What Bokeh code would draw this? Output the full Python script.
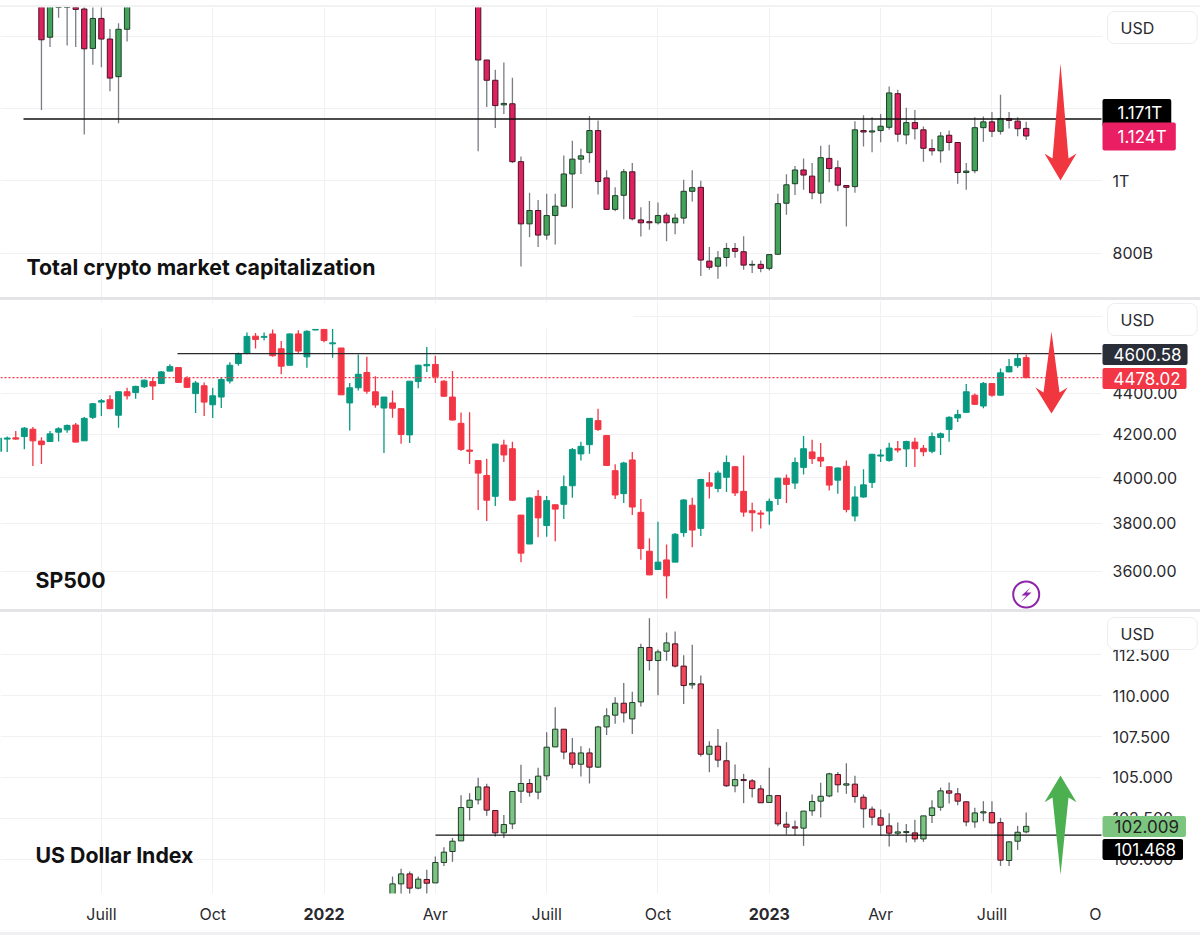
from bokeh.plotting import figure
from bokeh.models import FixedTicker, Label, Spacer, Column
from bokeh.embed import file_html
from bokeh.resources import INLINE
import math

# ---- weekly candles; x is a week number, prices in USD billions (crypto) or index points
crypto_week = list(range(4, 15)) + list(range(55, 120))
crypto_open = [1520,1397,1500,1500,1480,1475,1366,1449,1392,1288,1419,
 1520,1334,1278,1210,1213,1053,881,918,850,904,930,1019,1060,1078,1139,
 1008,921,960,1025,892,887,884,905,884,897,971,982,778,764,788,813,804,767,769,758,
 797,938,992,1030,1013,966,1062,1036,987,984,1139,1135,1139,1148,1241,1127,1161,1141,1089,1083,
 1126,1106,1023,1028,1147,1163,1137,1172,1165,1145]
crypto_high = [1560,1540,1560,1560,1500,1500,1500,1500,1420,1436,1550,
 1560,1334,1307,1327,1285,1067,967,947,964,964,1070,1111,1089,1179,1167,
 1029,982,1033,1049,927,944,940,912,909,1003,1029,1000,817,806,828,828,847,780,780,798,
 964,1018,1041,1062,1049,1097,1100,1056,987,1165,1181,1176,1185,1261,1252,1202,1196,1150,1115,1135,
 1139,1107,1049,1176,1178,1190,1238,1190,1176,1163]
crypto_low = [1196,1370,1451,1374,1370,1128,1321,1314,1248,1159,1385,
 1082,1204,1146,1185,1049,763,844,817,837,824,930,924,1019,1050,962,
 920,916,894,890,846,865,879,833,852,881,943,737,754,729,763,787,754,745,747,752,
 796,906,961,975,949,937,996,971,874,967,1095,1079,1107,1141,1108,1101,1114,1053,1070,1050,
 1084,992,975,1021,1108,1121,1128,1145,1123,1113]
crypto_close = [1390,1510,1530,1530,1474,1365,1449,1392,1284,1419,1520,
 1334,1278,1208,1214,1053,881,918,850,904,930,1019,1060,1069,1139,998,
 921,959,1025,895,884,884,904,884,897,971,981,781,761,787,813,805,767,769,758,796,
 937,989,1030,1016,967,1064,1034,988,982,1141,1135,1138,1151,1243,1129,1161,1144,1090,1083,1124,
 1106,1023,1027,1147,1163,1137,1172,1167,1144,1124]

sp_week = list(range(-1, 120))
sp_open = [4121,4178,4184,4190,4225,4169,4167,4211,4222,4245,4170,
 4282,4356,4368,4292,4407,4403,4432,4458,4448,4511,
 4529,4473,4398,4437,4343,4381,4461,4550,4602,4692,
 4686,4704,4626,4541,4704,4584,4725,4728,4652,4630,
 4352,4427,4504,4407,4327,4352,4324,4198,4458,4538,
 4545,4460,4381,4253,4127,4078,4010,3917,4150,4133,
 3835,3712,3917,3790,3880,3882,3964,4109,4152,4266,
 4195,4032,3929,4081,3847,3682,3607,3646,3637,3760,
 3878,3778,3977,3952,4002,4050,3939,3854,3844,3853,
 3908,3998,3976,4047,4118,4093,4050,3989,4052,3831,
 3914,3979,4099,4079,4133,4132,4164,4135,4121,4186,
 4224,4279,4306,4390,4337,4448,4390,4507,4539,4580]
sp_high = [4185,4190,4216,4235,4235,4187,4216,4234,4248,4255,4284,
 4352,4371,4390,4410,4427,4437,4468,4478,4511,4546,
 4531,4485,4461,4454,4427,4480,4556,4606,4711,4709,
 4711,4728,4667,4706,4723,4723,4730,4730,4730,4630,
 4451,4596,4585,4485,4381,4414,4324,4460,4543,4635,
 4590,4465,4511,4305,4306,4079,4087,4155,4175,4166,
 3835,3913,3945,3919,3881,4010,4136,4166,4279,4324,
 4198,4061,4073,4118,3905,3736,3806,3710,3758,3904,
 3911,3996,4025,4032,4101,4052,4101,3889,3856,3907,
 4000,4015,4092,4193,4175,4160,4052,4046,4079,3962,
 4038,4110,4130,4161,4169,4170,4184,4150,4209,4209,
 4287,4319,4446,4398,4456,4451,4524,4573,4604,4596]
sp_low = [4118,4118,4175,4130,4053,4062,4166,4167,4208,4163,4170,
 4274,4288,4321,4232,4369,4373,4426,4366,4448,4509,
 4453,4427,4303,4288,4279,4327,4448,4538,4597,4628,
 4670,4584,4495,4539,4601,4528,4723,4660,4580,4392,
 4219,4414,4397,4329,4113,4280,4156,4160,4424,4507,
 4451,4382,4267,4123,4062,3857,3810,3875,4072,3898,
 3637,3712,3740,3743,3724,3818,3911,4079,4110,4217,
 4055,3905,3888,3835,3647,3584,3607,3491,3637,3743,
 3699,3746,3907,3935,3936,3919,3828,3765,3778,3793,
 3879,3888,3949,4015,4062,4049,3943,3929,3847,3808,
 3911,3954,4072,4073,4115,4049,4049,4098,4112,4104,
 4166,4259,4305,4342,4326,4382,4389,4505,4528,4475]
sp_close = [4183,4183,4178,4230,4170,4152,4203,4227,4243,4164,4277,
 4348,4363,4324,4407,4387,4434,4465,4436,4507,4534,
 4454,4429,4451,4356,4387,4468,4541,4601,4691,4675,
 4691,4590,4536,4704,4614,4718,4728,4669,4657,4392,
 4427,4495,4410,4342,4381,4326,4200,4460,4541,4545,
 4483,4385,4269,4130,4121,4021,3900,4155,4104,3900,
 3674,3910,3823,3898,3861,3960,4129,4144,4277,4224,
 4056,3923,4067,3870,3693,3585,3637,3581,3753,3901,
 3771,3992,3962,4021,4069,3932,3848,3845,3839,3895,
 3998,3970,4069,4133,4087,4076,3967,4044,3859,3914,
 3968,4107,4104,4136,4127,4167,4133,4119,4190,4203,
 4282,4295,4407,4345,4449,4390,4502,4534,4575,4478]

dxy_week = list(range(45, 120))
dxy_open = [97.6,98.49,99.10,98.23,98.76,98.55,99.80,100.47,101.12,103.16,
 103.63,104.42,102.98,101.61,102.16,104.16,104.63,104.10,105.10,106.87,
 107.95,106.50,105.81,106.50,105.63,108.09,108.81,109.54,108.58,109.62,
 112.95,112.15,112.72,113.17,111.81,110.66,110.72,106.42,106.91,106.02,
 104.49,104.87,104.79,104.30,103.47,103.89,102.14,101.98,101.90,102.96,
 103.55,103.87,105.18,104.53,104.59,103.79,103.06,102.53,102.04,101.59,
 101.63,101.61,101.24,102.67,103.18,104.18,104.00,103.51,102.28,102.83,
 102.85,102.24,99.92,101.10,101.67]
dxy_high = [98.94,99.41,99.25,98.94,99.35,100.16,100.73,101.30,103.91,104.04,
 104.98,104.61,103.0,102.71,104.14,105.77,104.91,105.59,107.77,109.30,
 107.95,107.42,106.91,106.79,108.16,109.24,109.91,110.77,110.24,113.17,
 114.74,112.83,113.87,113.93,112.48,113.11,111.23,107.22,107.97,107.16,
 105.79,105.22,104.91,104.53,105.59,103.89,102.90,102.37,102.94,103.96,
 104.67,105.28,105.34,105.87,105.10,103.96,103.22,103.04,102.81,102.24,
 102.16,102.41,102.65,103.61,104.38,104.69,104.36,103.53,103.14,103.55,
 103.55,102.53,101.10,102.04,102.85]
dxy_low = [97.3,97.78,97.84,98.16,97.82,98.55,99.59,99.84,101.12,102.37,
 103.34,102.65,101.39,101.30,101.84,103.43,103.83,103.67,104.83,106.85,
 106.12,105.55,105.06,104.63,105.59,107.59,108.28,108.36,107.65,109.34,
 111.54,110.03,112.13,111.72,109.50,110.42,106.28,105.32,105.63,104.42,
 104.10,103.43,103.77,103.43,103.47,102.02,101.51,101.47,100.82,102.65,
 102.55,103.79,104.08,104.00,103.45,101.92,102.08,101.43,100.77,101.43,
 101.02,101.04,101.06,102.22,102.96,103.41,103.30,102.02,101.92,102.32,
 102.20,99.59,99.59,100.57,101.59]
dxy_close = [98.49,99.10,98.23,98.78,98.53,99.80,100.43,101.10,103.16,103.61,
 104.42,103.00,101.61,102.12,104.14,104.63,104.10,105.08,106.85,107.95,
 106.55,105.81,106.50,105.63,108.09,108.77,109.54,108.95,109.58,112.95,
 112.15,112.68,113.23,111.81,110.62,110.75,106.42,106.91,106.06,104.49,
 104.87,104.81,104.32,103.45,103.89,102.16,101.96,101.90,102.94,103.53,
 103.85,105.22,104.55,104.61,103.83,103.08,102.57,102.08,101.59,101.67,
 101.69,101.24,102.65,103.14,104.18,104.04,103.55,102.28,102.83,102.90,
 102.22,99.94,101.06,101.65,102.01]

month_weeks = [11, 24, 37, 50, 63, 76, 89, 102, 115]
month_labels = ["Juill", "Oct", "2022", "Avr", "Juill", "Oct", "2023", "Avr", "Juill"]
last_tick_week = 127.09
last_tick_label = "O"

crypto_ticks = [800, 1000]
crypto_tick_labels = ["800B", "1T"]
crypto_grid = [800, 1000, 1200, 1400]
sp_ticks = [3600, 3800, 4000, 4200, 4400]
sp_tick_labels = ["3600.00", "3800.00", "4000.00", "4200.00", "4400.00"]
sp_grid = [3600, 3800, 4000, 4200, 4400, 4800]
dxy_ticks = [100, 102.5, 105, 107.5, 110, 112.5]
dxy_tick_labels = ["100.000", "102.500", "105.000", "107.500", "110.000", "112.500"]

crypto_level, crypto_last = 1171, 1124
sp_level, sp_last = 4600.58, 4478.02
dxy_level, dxy_last = 101.468, 102.009

FONT = "Inter"
PX0, PXW = 6.7, 8.563            # centre of week 0 and week pitch in page pixels


def wk(px):
    return (px - PX0) / PXW


def make_panel(height, yr, yf, log=False, grid=None, ticks=(), labels=()):
    p = figure(width=1200, height=height, x_range=(wk(0), wk(1200)), y_range=yr,
               y_axis_type="log" if log else "linear", y_axis_location="right",
               output_backend="svg", toolbar_location=None,
               min_border_left=0, min_border_top=0, min_border_right=0,
               min_border_bottom=0, outline_line_color=None)
    p.xgrid.ticker = FixedTicker(ticks=month_weeks)
    p.ygrid.ticker = FixedTicker(ticks=grid if grid else list(ticks))
    p.xgrid.grid_line_color = "#f1f1f3"
    p.ygrid.grid_line_color = "#f1f1f3"
    p.yaxis.ticker = FixedTicker(ticks=list(ticks))
    p.yaxis.major_label_overrides = dict(zip(ticks, labels))
    p.yaxis.major_label_text_font = FONT
    p.yaxis.major_label_text_font_size = "16px"
    p.yaxis.major_label_text_color = "#2a2a2e"
    p.yaxis.major_label_standoff = -88
    p.yaxis.major_tick_in = 0
    p.yaxis.major_tick_out = 0
    p.yaxis.major_tick_line_color = None
    p.yaxis.minor_tick_line_color = None
    p.yaxis.axis_line_color = None
    # the price scale strip: grid lines stop where it starts
    p.quad(left=[wk(1101)], right=[wk(1200)], bottom=[yr[0]], top=[yr[1]], color="#ffffff", line_width=0)
    return p


def candles(p, weeks, o, h, l, c, up, down, wick, edge_up, edge_down, width):
    n = {len(weeks), len(o), len(h), len(l), len(c)}
    assert len(n) == 1, n
    ups = [cl >= op for op, cl in zip(o, c)]
    p.segment(weeks, l, weeks, h, color=[wick[0] if u else wick[1] for u in ups], line_width=1.3)
    p.vbar(weeks, width, [min(a, b) for a, b in zip(o, c)], [max(a, b) for a, b in zip(o, c)],
           fill_color=[up if u else down for u in ups],
           line_color=[edge_up if u else edge_down for u in ups], line_width=1)


def tag(p, y, text, bg, fg, pad_l, pad_r):
    # padding order in Bokeh's label: left, right, top, bottom
    p.add_layout(Label(x=wk(1102), y=y, text=text, text_font=FONT, text_font_size="17px",
                       text_color=fg, text_baseline="middle",
                       background_fill_color=bg, background_fill_alpha=1.0,
                       padding=(pad_l, pad_r, 4, 4), border_radius=2))


def usd(p, y):
    p.add_layout(Label(x=wk(1107), y=y, text="USD", text_font=FONT, text_font_size="16px",
                       text_color="#2a2a2e", text_baseline="middle",
                       background_fill_color="#ffffff", background_fill_alpha=1.0,
                       border_line_color="#ededf0", border_line_width=1,
                       padding=(13, 43, 6, 6), border_radius=7))


def title(p, y, px, text):
    p.add_layout(Label(x=wk(px), y=y, text=text, text_font=FONT, text_font_style="bold",
                       text_font_size="21.3px", text_color="#111111", text_baseline="middle"))


def arrow(p, yf, tail, tip, half_head, half_neck, base, neck, color):
    xs = [tail[0], tail[0] + half_neck, tail[0] + half_head, tail[0],
          tail[0] - half_head, tail[0] - half_neck]
    ys = [tail[1], neck, base, tip, base, neck]
    p.patch([wk(x) for x in xs], [yf(y) for y in ys], color=color, line_width=0)


# ---------- crypto (linear price scale)
cy = lambda y: 1000 + (180.33 - y) / 0.3617
p1 = make_panel(290, (cy(297), cy(7)), cy, grid=crypto_grid, ticks=crypto_ticks, labels=crypto_tick_labels)
p1.xaxis.visible = False
candles(p1, crypto_week, crypto_open, crypto_high, crypto_low, crypto_close,
        "#43a35a", "#e0215f", ("#7b7d85", "#7b7d85"), "#1f3d28", "#4a1226", 0.62)
p1.line([wk(23), wk(1101)], [crypto_level, crypto_level], color="#111111", line_width=1.5)
arrow(p1, cy, (1060, 63), 180, 16, 8, 153, 158, "#f0363f")
tag(p1, cy(112.5), "1.171T", "#000000", "#ffffff", 15, 9)
tag(p1, cy(136), "1.124T", "#e91e63", "#ffffff", 15, 9)
usd(p1, cy(27))
title(p1, cy(266), 26, "Total crypto market capitalization")

# ---------- S&P 500 (log price scale)
sy = lambda y: 4400 * math.exp((392.7 - y) / 887)
p2 = make_panel(309, (sy(609), sy(300)), sy, log=True, grid=sp_grid, ticks=sp_ticks, labels=sp_tick_labels)
p2.xaxis.visible = False
p2.quad(left=[wk(0)], right=[wk(633)], bottom=[sy(328)], top=[sy(303)], color="#ffffff", line_width=0)
candles(p2, sp_week, sp_open, sp_high, sp_low, sp_close,
        "#089981", "#f23645", ("#089981", "#f23645"), "#089981", "#f23645", 0.68)
p2.line([wk(177), wk(1101)], [sp_level, sp_level], color="#2a2a2e", line_width=1.3)
p2.line([wk(0), wk(1101)], [sp_last, sp_last], color="#f23645", line_width=1.3, line_dash="2 2")
arrow(p2, sy, (1051, 331), 413, 16, 8, 387, 392, "#f0363f")
p2.scatter([wk(1025.7)], [sy(594)], size=26, fill_color="#ffffff", line_color="#8e24aa", line_width=2)
p2.patch([wk(x) for x in (1030, 1021, 1026, 1020, 1031, 1026)],
         [sy(y) for y in (587, 595, 595, 602, 592, 592)], color="#8e24aa", line_width=0)
tag(p2, sy(354), "4600.58", "#2a2e39", "#ffffff", 11, 6)
tag(p2, sy(378), "4478.02", "#f23645", "#ffffff", 11, 6)
usd(p2, sy(319))
title(p2, sy(579), 35, "SP500")

# ---------- US Dollar Index (linear price scale)
dy_ = lambda y: 100 + (858.7 - y) / 16.35
p3 = make_panel(320, (dy_(932), dy_(612)), dy_, ticks=dxy_ticks, labels=dxy_tick_labels)
p3.xaxis.ticker = FixedTicker(ticks=month_weeks + [last_tick_week])
overrides = dict(zip(month_weeks, month_labels))
overrides[last_tick_week] = last_tick_label
overrides[37] = " "
overrides[89] = " "
p3.xaxis.major_label_overrides = overrides
p3.xaxis.major_label_text_font = FONT
p3.xaxis.major_label_text_font_size = "16px"
p3.xaxis.major_label_text_color = "#2a2a2e"
p3.xaxis.major_label_standoff = -29
p3.xaxis.major_tick_in = 0
p3.xaxis.major_tick_out = 0
p3.xaxis.major_tick_line_color = None
p3.xaxis.minor_tick_line_color = None
p3.xaxis.axis_line_color = None
candles(p3, dxy_week, dxy_open, dxy_high, dxy_low, dxy_close,
        "#7cc484", "#f0475a", ("#6f7278", "#6f7278"), "#1f3d28", "#4a1226", 0.62)
# the time-scale strip: candles and grid lines stop where it starts
p3.quad(left=[wk(0)], right=[wk(1200)], bottom=[dy_(932)], top=[dy_(893)], color="#ffffff", line_width=0)
p3.line([wk(435), wk(1101)], [dxy_level, dxy_level], color="#111111", line_width=1.3)
arrow(p3, dy_, (1060, 874.3), 775, 16, 8, 801.7, 797, "#4caf50")
tag(p3, dy_(826), "102.009", "#7cc57f", "#222222", 12, 7)
tag(p3, dy_(849), "101.468", "#000000", "#ffffff", 12, 7)
usd(p3, dy_(633))
title(p3, dy_(854), 35, "US Dollar Index")
for wk_i, txt in ((37, "2022"), (89, "2023")):
    p3.add_layout(Label(x=wk_i, y=dy_(913.5), text=txt, text_font=FONT, text_font_style="bold",
                        text_font_size="16px", text_color="#2a2a2e", text_align="center",
                        text_baseline="middle"))

band = lambda h, c: Spacer(width=1200, height=h, styles={"background-color": c})
page = Column(children=[band(5, "#ffffff"), band(2, "#f2f2f4"), p1, band(3, "#e4e4e6"), p2,
                        band(3, "#e4e4e6"), p3, band(3, "#f0f0f2")], spacing=0)
open("out.html", "w").write(file_html(page, INLINE))
